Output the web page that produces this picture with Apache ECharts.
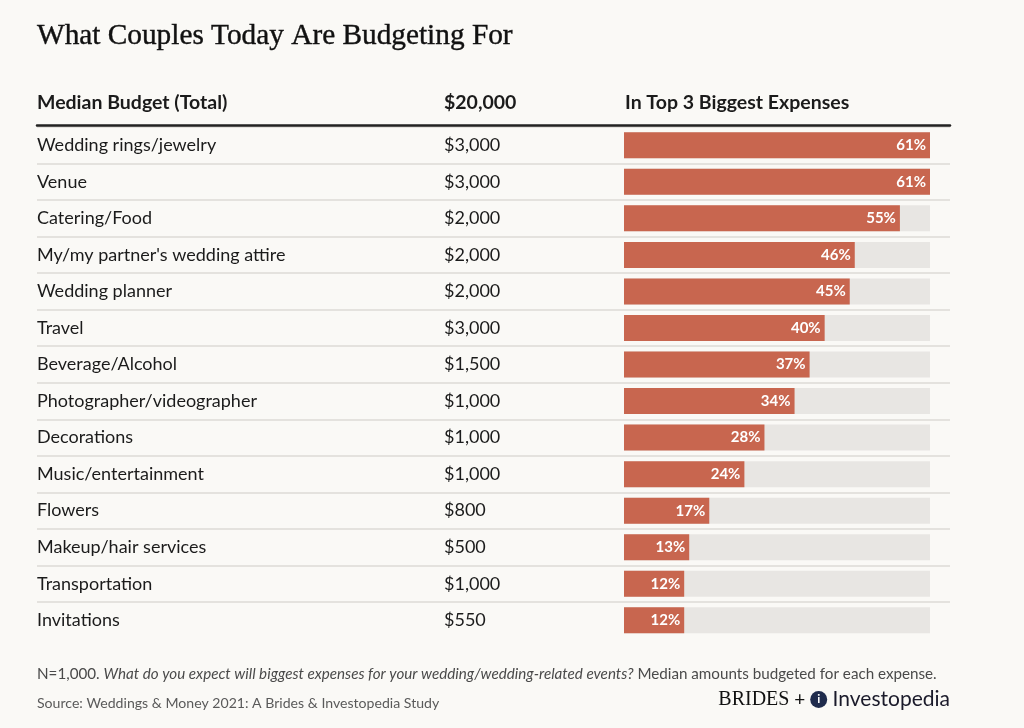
<!DOCTYPE html>
<html><head><meta charset="utf-8">
<script src="https://cdn.jsdelivr.net/npm/echarts@6/dist/echarts.min.js"></script>
<style>html,body{margin:0;padding:0;background:#faf9f6}#c{width:1024px;height:728px}</style>
</head><body><div id="c"></div>
<script>
const categories = ['Wedding rings/jewelry','Venue','Catering/Food',"My/my partner's wedding attire",'Wedding planner','Travel','Beverage/Alcohol','Photographer/videographer','Decorations','Music/entertainment','Flowers','Makeup/hair services','Transportation','Invitations'];
const budgets = ['$3,000','$3,000','$2,000','$2,000','$2,000','$3,000','$1,500','$1,000','$1,000','$1,000','$800','$500','$1,000','$550'];
const shares = [61,61,55,46,45,40,37,34,28,24,17,13,12,12];
const headerLabels = ['Median Budget (Total)','$20,000','In Top 3 Biggest Expenses'];
const titleText = 'What Couples Today Are Budgeting For';
const noteLead = 'N=1,000. ';
const noteQuestion = 'What do you expect will biggest expenses for your wedding/wedding-related events?';
const noteTail = ' Median amounts budgeted for each expense.';
const sourceText = 'Source: Weddings & Money 2021: A Brides & Investopedia Study';

const chart = echarts.init(document.getElementById('c'), null, {renderer:'canvas'});
const ink = '#1b1b1b';
const sans = 'Lato';
const rowTop = 127, rowH = 36.54;
const headStyle = {fontFamily:sans, fontSize:19.5, fontWeight:'bold', color:ink};
chart.setOption({
  backgroundColor:'#faf9f6',
  animation:false,
  title:[
    {text:titleText, left:37, top:22, padding:0, textStyle:{fontFamily:'Liberation Serif', fontSize:29.3, fontWeight:'normal', color:'#111', textBorderColor:'#111', textBorderWidth:0.4}},
    {text:headerLabels[0], left:37, top:93, padding:0, textStyle:headStyle},
    {text:headerLabels[1], left:444, top:93, padding:0, textStyle:headStyle},
    {text:headerLabels[2], left:625, top:93, padding:0, textStyle:headStyle},
    {text:'{a|'+noteLead+'}{b|'+noteQuestion+'}{a|'+noteTail+'}', left:37, top:667, padding:0,
      textStyle:{rich:{a:{fontFamily:sans, fontSize:15.2, fontWeight:'normal', color:'#4a4a4a'}, b:{fontFamily:sans, fontSize:15.2, fontWeight:'normal', fontStyle:'italic', color:'#4a4a4a'}}}},
    {text:sourceText, left:37, top:696, padding:0, textStyle:{fontFamily:sans, fontSize:14.1, fontWeight:'normal', color:'#5a5a5a'}},
    {text:'{b|BRIDES}{p| + }{i|i}{n| Investopedia}', right:74, top:689, padding:0,
      textStyle:{rich:{
        b:{fontFamily:'Liberation Serif', fontSize:20, fontWeight:'normal', color:'#111'},
        p:{fontFamily:sans, fontSize:19, fontWeight:'normal', color:'#111'},
        i:{fontFamily:sans, fontSize:12, fontWeight:'bold', color:'#fff', backgroundColor:'#1f2b4c', borderRadius:9, width:17, height:17, align:'center', lineHeight:17},
        n:{fontFamily:sans, fontSize:21, fontWeight:'normal', color:'#1a1a2a'}
      }}}
  ],
  grid:[
    {left:624, width:306, top:rowTop, height:rowH*categories.length, containLabel:false},
    {left:37, width:913, top:rowTop, height:rowH*(categories.length-1), containLabel:false}
  ],
  xAxis:[
    {gridIndex:0, type:'value', min:0, max:Math.max(...shares), show:false},
    {gridIndex:1, type:'value', position:'top', offset:1.5, axisLine:{show:true, lineStyle:{color:'#222', width:2.5}}, axisTick:{show:false}, axisLabel:{show:false}, splitLine:{show:false}}
  ],
  yAxis:[
    {gridIndex:0, type:'category', data:categories, inverse:true, axisLine:{show:false}, axisTick:{show:false}, splitLine:{show:false},
      axisLabel:{margin:587, align:'left', color:ink, fontSize:18, fontFamily:sans}},
    {gridIndex:0, type:'category', data:categories, inverse:true, position:'left', axisLine:{show:false}, axisTick:{show:false}, splitLine:{show:false},
      axisLabel:{margin:180, align:'left', color:ink, fontSize:18, fontFamily:sans, formatter:(v,i)=>budgets[i]}},
    {gridIndex:1, type:'category', data:categories.slice(0, categories.length-1), inverse:true, axisLine:{show:false}, axisTick:{show:false}, axisLabel:{show:false},
      splitLine:{show:true, lineStyle:{color:'#e4e2de', width:2}}}
  ],
  series:[
    {type:'bar', xAxisIndex:0, yAxisIndex:0, data:shares, barWidth:26,
      itemStyle:{color:'#c8664f'},
      showBackground:true, backgroundStyle:{color:'#e8e6e3'},
      label:{show:true, position:'insideRight', distance:4, formatter:'{c}%', color:'#fff', fontWeight:'bold', fontSize:15, fontFamily:sans}}
  ]
});
</script></body></html>
